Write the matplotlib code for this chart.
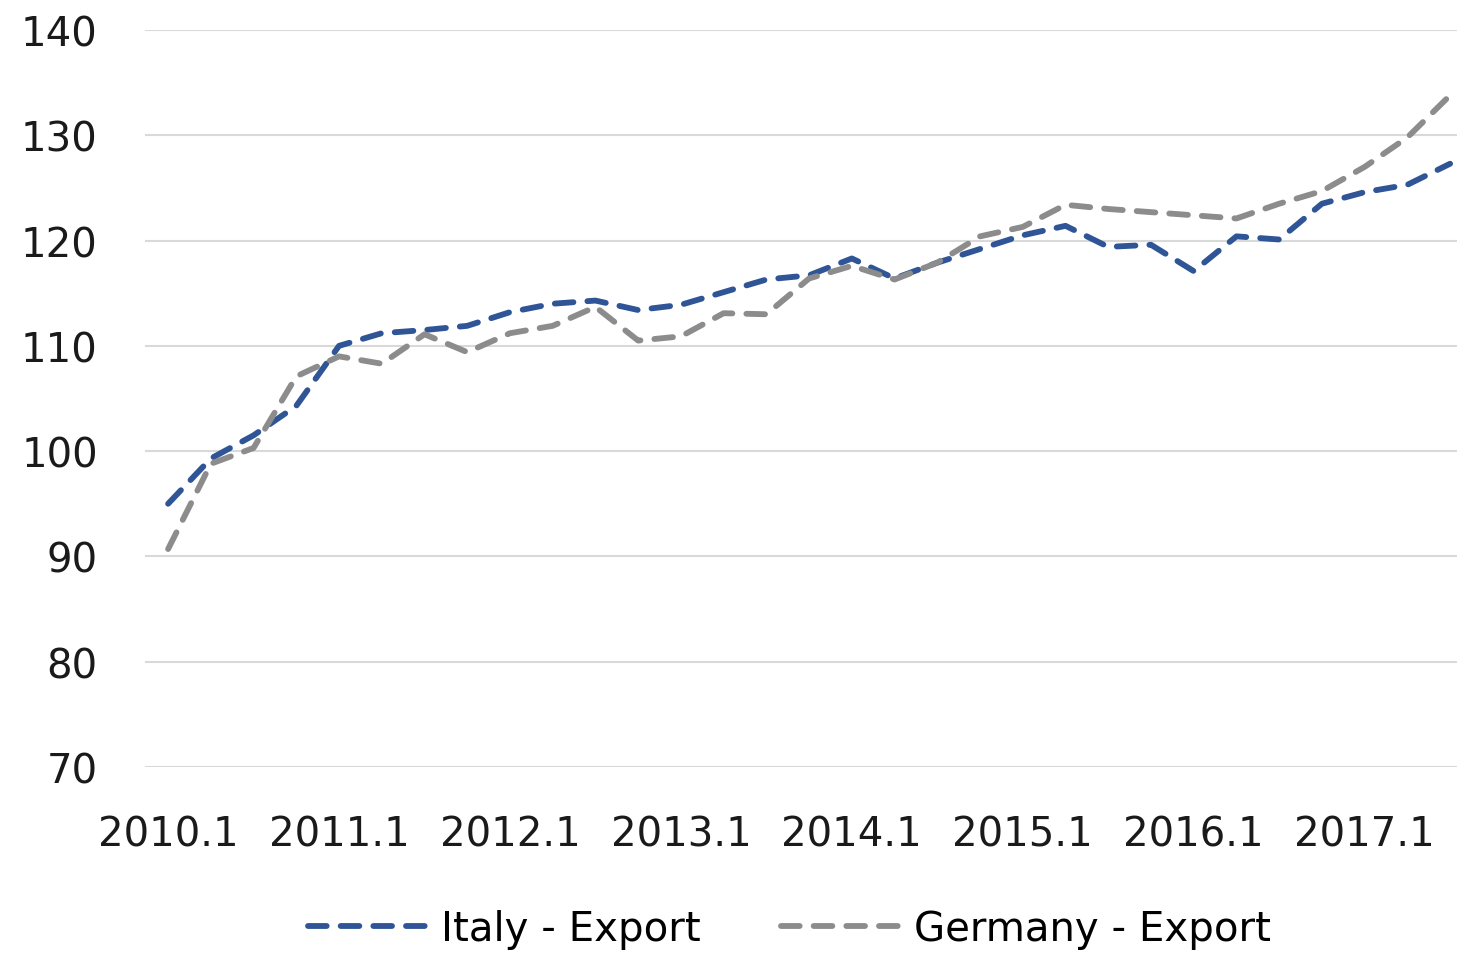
import matplotlib
matplotlib.use('Agg')
import matplotlib.pyplot as plt

# quarterly index values, 2010.1 .. 2017.3
quarters = [f'{y}.{q}' for y in range(2010, 2018) for q in range(1, 5)][:31]
italy = [95.0, 99.3, 101.5, 104.3, 110.0, 111.2, 111.5, 111.9, 113.2, 114.0,
         114.3, 113.4, 113.9, 115.1, 116.3, 116.7, 118.3, 116.4, 117.9, 119.2,
         120.5, 121.4, 119.4, 119.6, 117.1, 120.4, 120.1, 123.5, 124.6, 125.3,
         127.3]
germany = [90.7, 98.8, 100.3, 107.1, 109.0, 108.3, 111.1, 109.4, 111.2, 111.9,
           113.7, 110.5, 110.9, 113.1, 113.0, 116.4, 117.6, 116.3, 117.9, 120.4,
           121.3, 123.4, 123.0, 122.7, 122.4, 122.1, 123.5, 124.7, 127.0, 129.8,
           133.8]
xtick_labels = ['2010.1', '2011.1', '2012.1', '2013.1', '2014.1', '2015.1', '2016.1', '2017.1']

fig = plt.figure(figsize=(14.59, 9.54), dpi=100)
ax = fig.add_axes([0.0994, 0.195, 0.8992, 0.7725])

x = list(range(len(quarters)))
dash = (0, (3.2, 2.4))
ax.plot(x, italy, color='#2f5597', lw=4.2, linestyle=dash, dash_capstyle='round',
        label='Italy - Export')
ax.plot(x, germany, color='#8c8c8c', lw=4.2, linestyle=dash, dash_capstyle='round',
        label='Germany - Export')

ax.set_ylim(70, 140)
ax.set_xlim(-0.54, 30.16)
ax.set_yticks(range(70, 141, 10))
ax.set_xticks(range(0, 31, 4))
ax.set_xticklabels(xtick_labels)
ax.grid(axis='y', color='#d9d9d9', lw=1.5)
ax.set_axisbelow(True)
for s in ax.spines.values():
    s.set_visible(False)
ax.tick_params(axis='both', length=0, labelsize=29, colors='#1a1a1a')
ax.tick_params(axis='y', pad=34)
ax.tick_params(axis='x', pad=34)

ax.legend(loc='center', bbox_to_anchor=(0.491, -0.22), ncol=2, frameon=False,
          fontsize=29, handlelength=3.0, handletextpad=0.3, columnspacing=2.0)

fig.savefig('out.png', dpi=100)
